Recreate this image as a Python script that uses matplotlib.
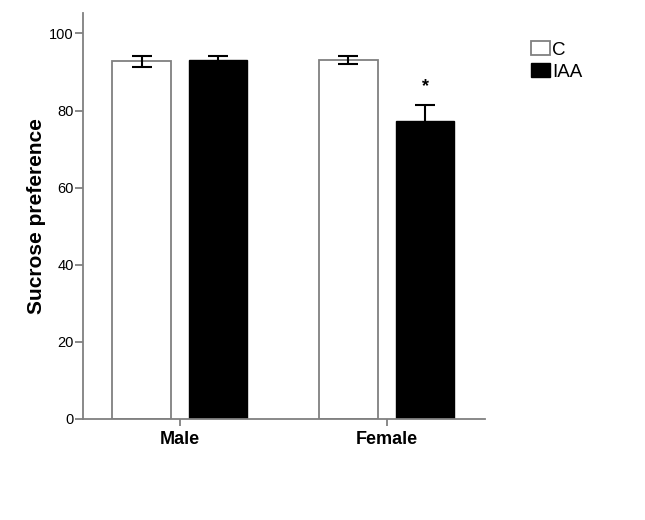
import matplotlib
matplotlib.use("Agg")
import matplotlib.pyplot as plt
from matplotlib.patches import Patch
import numpy as np

plt.rcParams['font.family'] = ['Liberation Sans', 'DejaVu Sans']

categories = ["Male", "Female"]
series_names = ["C", "IAA"]
c_values = [92.8, 93.1]
c_err = [1.45, 1.1]
iaa_values = [93.1, 77.4]
iaa_err = [1.1, 4.1]
y_ticks = [0, 20, 40, 60, 80, 100]
sig_marks = ["", "*"]

fig = plt.figure(figsize=(6.45, 5.2), dpi=100)
ax = fig.add_axes([83.0/645, 1-419/520, (485-83.0)/645, (419-13)/520])

x = np.arange(len(categories))
w = 0.283
off = 0.185
gray = "#808080"

ax.bar(x - off, c_values, w, color="white", edgecolor=gray, linewidth=1.3, zorder=2)
ax.bar(x + off, iaa_values, w, color="black", edgecolor="black", linewidth=1.0, zorder=2)
ax.errorbar(x - off, c_values, yerr=c_err, fmt="none", ecolor="black",
            elinewidth=1.5, capsize=7.3, capthick=1.5, zorder=3)
ax.errorbar(x + off, iaa_values, yerr=iaa_err, fmt="none", ecolor="black",
            elinewidth=1.5, capsize=7.3, capthick=1.5, zorder=3)

for i, m in enumerate(sig_marks):
    if m:
        ax.text(x[i] + off + 0.004, iaa_values[i] + iaa_err[i] + 4.8, m,
                ha="center", va="center", fontsize=13, fontweight="bold")

ax.set_xlim(-0.468, 1.476)
ax.set_ylim(0, 105.3)
ax.set_yticks(y_ticks)
ax.set_xticks(x)
ax.set_xticklabels(categories, fontsize=13, fontweight="bold")
ax.tick_params(axis="y", labelsize=10.5, length=5.5, width=1.3, color=gray, pad=1)
ax.tick_params(axis="x", length=5, width=1.3, color=gray, pad=4)
ax.set_ylabel("Sucrose preference", fontsize=15, fontweight="bold")
ax.yaxis.set_label_coords(-0.092, 0.5)

for s in ["top", "right"]:
    ax.spines[s].set_visible(False)
for s in ["left", "bottom"]:
    ax.spines[s].set_color(gray)
    ax.spines[s].set_linewidth(1.3)

handles = [Patch(facecolor="white", edgecolor=gray, linewidth=1.3),
           Patch(facecolor="black", edgecolor="black")]
fig.legend(handles, series_names, loc="upper left",
           bbox_to_anchor=(531/645, 1-41/520), bbox_transform=fig.transFigure,
           frameon=False, fontsize=13.5, handlelength=1.0, handleheight=0.8,
           handletextpad=0.12, labelspacing=0.23, borderpad=0, borderaxespad=0)

fig.savefig("out.png", dpi=100)
